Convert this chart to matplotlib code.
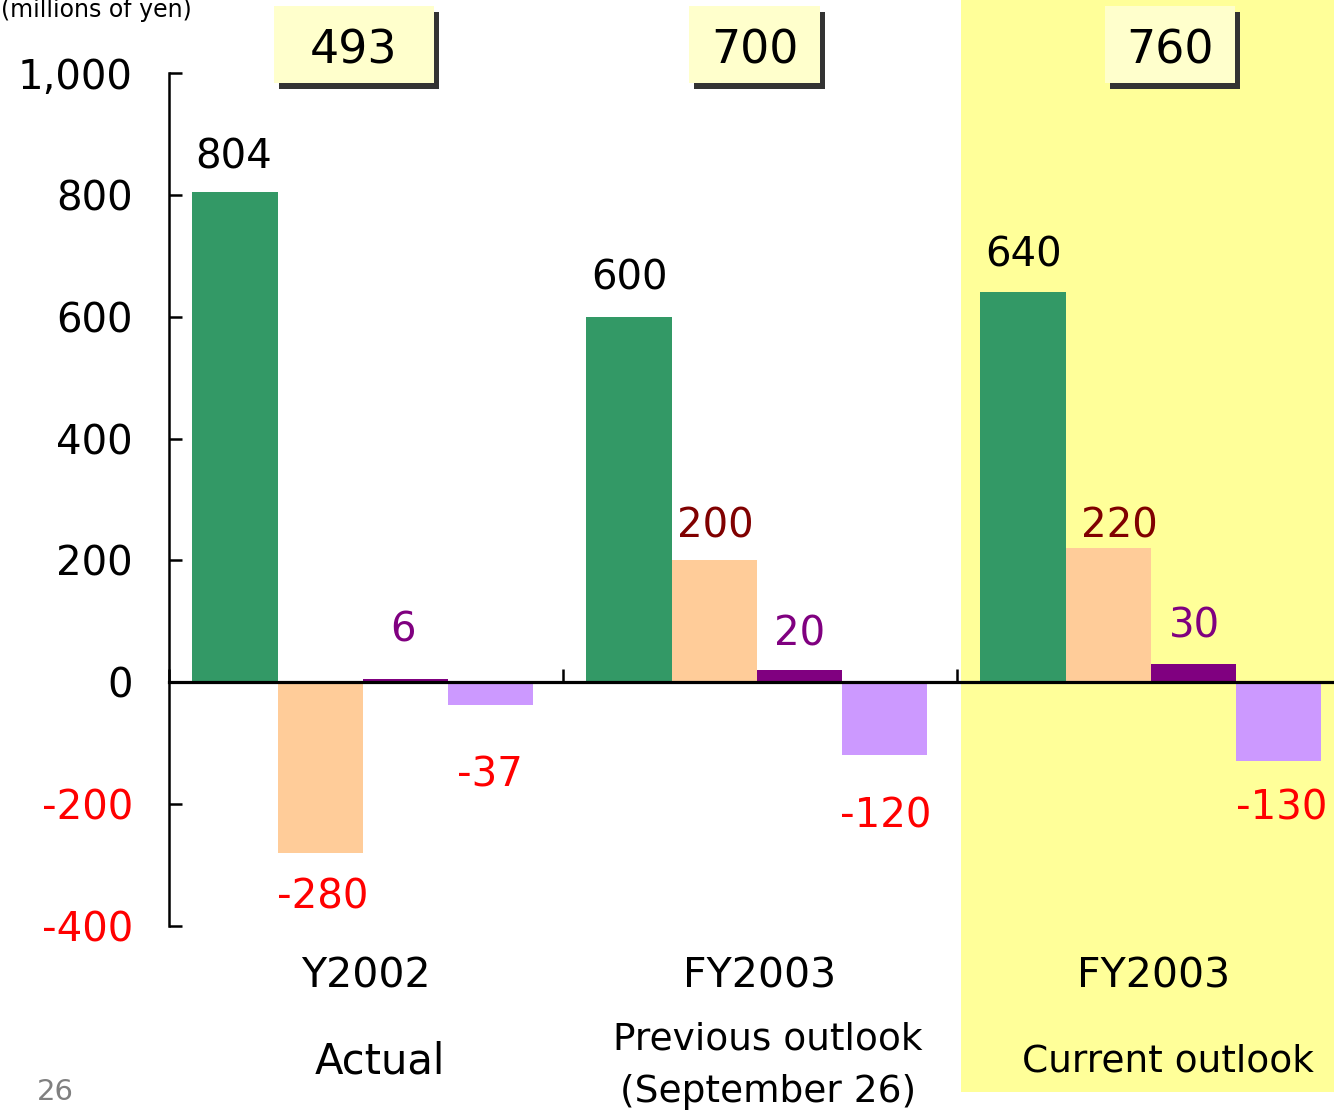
import matplotlib
matplotlib.use("Agg")
import matplotlib.pyplot as plt
from matplotlib.patches import Rectangle
from matplotlib.transforms import blended_transform_factory

# ---- data (millions of yen) ----
periods = ["Y2002", "FY2003", "FY2003"]
subtitles = [["Actual"], ["Previous outlook", "(September 26)"], ["Current outlook"]]
series_a = [804, 600, 640]     # green
series_b = [-280, 200, 220]    # peach
series_c = [6, 20, 30]         # dark purple
series_d = [-37, -120, -130]   # lavender
totals = [a + b + c + d for a, b, c, d in zip(series_a, series_b, series_c, series_d)]
yticks = [-400, -200, 0, 200, 400, 600, 800, 1000]
unit_label = "(millions of yen)"
page_no = "26"

# ---- styling ----
bar_colors = ["#339966", "#FFCC99", "#800080", "#CC99FF"]
pos_label_colors = ["black", "#800000", "#800080", "black"]
neg_color = "#FF0000"
W, H = 1334, 1112
plt.rcParams["font.family"] = "DejaVu Sans"

fig = plt.figure(figsize=(W / 100, H / 100), dpi=100)
fig.patch.set_facecolor("white")


def fx(px):
    return px / W


def fy(py):
    return 1 - py / H


# highlight for the current outlook column
fig.add_artist(Rectangle((fx(961), fy(1092)), 1 - fx(961), 1 - fy(1092) + 0.01,
                         transform=fig.transFigure, facecolor="#FFFF99",
                         edgecolor="none", zorder=-5))

ax = fig.add_axes([fx(169), fy(926), 1 - fx(169), (926 - 73) / H])
ax.set_facecolor("none")
group_px = 394.0
ax.set_xlim(-0.5, -0.5 + (W - 169) / group_px)
ax.set_ylim(-400, 1000)

series = [series_a, series_b, series_c, series_d]
bar_w = 0.2165
start = -0.441
x_groups = list(range(len(periods)))

# per-label offsets (pixels) from bar end to text baseline
label_offsets = [
    [(-1, 24), (2, -56), (-2, 37), (-1, -82)],
    [(1, 27), (1, 23), (0, 25), (1, -72)],
    [(1, 26), (11, 11), (1, 27), (3, -58)],
]

for k, vals in enumerate(series):
    xs = [g + start + k * bar_w for g in x_groups]
    ax.bar(xs, vals, width=bar_w, align="edge", color=bar_colors[k],
           edgecolor="none", zorder=2)
    for g, (x, v) in enumerate(zip(xs, vals)):
        dx, dy = label_offsets[g][k]
        col = pos_label_colors[k] if v >= 0 else neg_color
        ax.annotate(f"{v:,}", xy=(x + bar_w / 2, v), xytext=(dx, dy),
                    textcoords="offset pixels", ha="center", va="baseline",
                    fontsize=29, color=col, zorder=4)

# axes styling
for s in ["top", "right"]:
    ax.spines[s].set_visible(False)
ax.spines["bottom"].set_position(("data", 0))
ax.spines["bottom"].set_linewidth(2.3)
ax.spines["bottom"].set_zorder(3)
ax.spines["left"].set_linewidth(1.8)
ax.set_yticks(yticks)
ax.set_yticklabels([f"{t:,}" for t in yticks], fontsize=29)
for lab, t in zip(ax.get_yticklabels(), yticks):
    lab.set_color(neg_color if t < 0 else "black")
ax.tick_params(axis="y", direction="in", length=9.5, width=1.8, pad=26)
ax.set_xticks([g - 0.5 for g in x_groups])
ax.set_xticklabels([])
ax.tick_params(axis="x", direction="in", length=9.5, width=1.8)

# category labels below the plot
bt = blended_transform_factory(ax.transData, fig.transFigure)
for g, name in enumerate(periods):
    ax.text(g, fy(976), name, transform=bt, ha="center", va="center",
            fontsize=29.5, clip_on=False)
sub_specs = [(0.036, [1061], 30), (0.02, [1040, 1092], 27), (0.036, [1061], 27)]
for g, (dxg, ys, fs) in enumerate(sub_specs):
    for line, ypx in zip(subtitles[g], ys):
        ax.text(g + dxg, fy(ypx), line, transform=bt, ha="center",
                va="center", fontsize=fs, clip_on=False)

# total boxes with drop shadow
box_specs = [(274, 160), (689, 131), (1105, 130)]
for (bx, bw), tot in zip(box_specs, totals):
    by, bh = 6, 77
    fig.add_artist(Rectangle((fx(bx + 5), fy(by + bh + 6)), bw / W, bh / H,
                             transform=fig.transFigure, facecolor="#333333",
                             edgecolor="none", zorder=5))
    fig.add_artist(Rectangle((fx(bx), fy(by + bh)), bw / W, bh / H,
                             transform=fig.transFigure, facecolor="#FFFFCC",
                             edgecolor="none", zorder=6))
    fig.text(fx(bx + bw / 2), fy(64), f"{tot:,}", ha="center",
             va="baseline", fontsize=33, zorder=7)

fig.text(fx(1), fy(17), unit_label, ha="left", va="baseline", fontsize=17)
fig.text(fx(37), fy(1100), page_no, ha="left", va="baseline", fontsize=21,
         color="#808080")

fig.savefig("out.png", dpi=100)
